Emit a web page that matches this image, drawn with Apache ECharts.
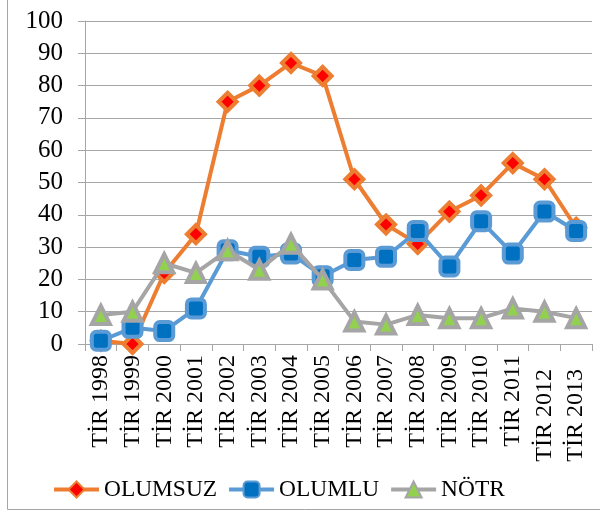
<!DOCTYPE html>
<html>
<head>
<meta charset="utf-8">
<script src="https://cdn.jsdelivr.net/npm/echarts@6/dist/echarts.min.js"></script>
<style>
html,body{margin:0;padding:0;background:#fff;}
#chart{width:600px;height:513px;}
</style>
</head>
<body>
<div id="chart"></div>
<script>
const categories = ['TİR 1998','TİR 1999','TİR 2000','TİR 2001','TİR 2002','TİR 2003','TİR 2004','TİR 2005','TİR 2006','TİR 2007','TİR 2008','TİR 2009','TİR 2010','TİR 2011','TİR 2012','TİR 2013'];
const olumsuz = [1, 0, 22, 34, 75, 80, 87, 83, 51, 37, 31, 41, 46, 56, 51, 36];
const olumlu  = [1, 5, 4, 11, 29, 27, 28, 21, 26, 27, 35, 24, 38, 28, 41, 35];
const notr    = [9, 10, 25, 22, 29, 23, 31, 20, 7, 6, 9, 8, 8, 11, 10, 8];
const seriesNames = ['OLUMSUZ', 'OLUMLU', 'NÖTR'];
const yTicks = {min: 0, max: 100, interval: 10};

const FONT = '"Liberation Serif", "Times New Roman", serif';
const chart = echarts.init(document.getElementById('chart'), null, {renderer: 'canvas'});

const catData = categories.map((c, i) => (i >= 14 ? {value: c, textStyle: {padding: [0, 14, 0, 0]}} : c));

chart.setOption({
  animation: false,
  backgroundColor: '#fff',
  textStyle: {fontFamily: FONT},
  graphic: [{
    type: 'rect', z: -10,
    shape: {x: 7.5, y: -5, width: 610, height: 505 + 9.5},
    style: {fill: 'none', stroke: '#a6a6a6', lineWidth: 1}
  }],
  grid: {left: 85, right: 8, top: 21, bottom: 169, containLabel: false},
  legend: {
    bottom: 7, left: 47,
    itemWidth: 45, itemHeight: 20, itemGap: 10,
    lineStyle: {width: 4},
    textStyle: {fontFamily: FONT, fontSize: 23.4, color: '#000'},
    data: seriesNames
  },
  xAxis: {
    type: 'category',
    data: catData,
    boundaryGap: true,
    axisLine: {lineStyle: {color: '#a6a6a6', width: 1}},
    axisTick: {show: true, length: 7, lineStyle: {color: '#a6a6a6'}},
    axisLabel: {rotate: 90, margin: 11, interval: 0, fontFamily: FONT, fontSize: 24, color: '#000'}
  },
  yAxis: {
    type: 'value',
    min: yTicks.min, max: yTicks.max, interval: yTicks.interval,
    axisLine: {show: true, lineStyle: {color: '#a6a6a6', width: 1}},
    axisTick: {show: true, length: 7, lineStyle: {color: '#a6a6a6'}},
    splitLine: {lineStyle: {color: '#a6a6a6', width: 1}},
    axisLabel: {margin: 22, fontFamily: FONT, fontSize: 25, color: '#000'}
  },
  series: [
    {
      name: seriesNames[0], type: 'line', data: olumsuz, z: 2,
      symbol: 'diamond', symbolSize: 18,
      lineStyle: {color: '#ED7D31', width: 4},
      itemStyle: {color: '#FF0000', borderColor: '#ED7D31', borderWidth: 4}
    },
    {
      name: seriesNames[1], type: 'line', data: olumlu, z: 3,
      symbol: 'roundRect', symbolSize: 18,
      lineStyle: {color: '#5B9BD5', width: 4},
      itemStyle: {color: '#0070C0', borderColor: '#5B9BD5', borderWidth: 4}
    },
    {
      name: seriesNames[2], type: 'line', data: notr, z: 4,
      symbol: 'triangle', symbolSize: 18,
      lineStyle: {color: '#A5A5A5', width: 4},
      itemStyle: {color: '#92D050', borderColor: '#A5A5A5', borderWidth: 4}
    }
  ]
});
</script>
</body>
</html>
